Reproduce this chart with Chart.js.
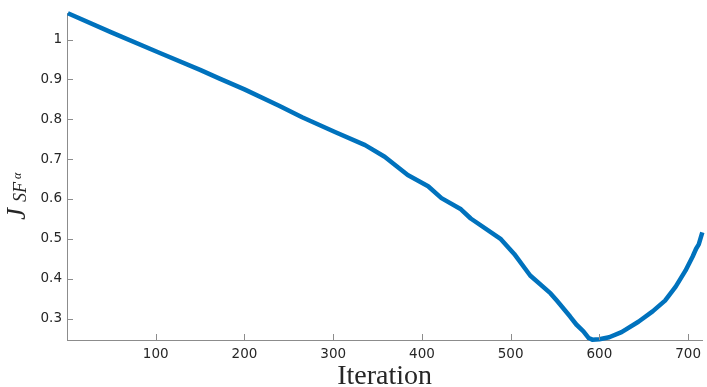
<!DOCTYPE html>
<html>
<head>
<meta charset="utf-8">
<script src="https://cdn.jsdelivr.net/npm/chart.js@4.4.1/dist/chart.umd.min.js"></script>
<style>
  html, body { margin: 0; padding: 0; background: #fff; }
  #wrap { width: 707px; height: 387px; }
</style>
</head>
<body>
<div id="wrap"><canvas id="costChart"></canvas></div>
<script>
// values
const iterations = [1, 50, 104, 150, 172, 200, 239, 265, 302, 336, 358, 384, 407, 422, 444, 455,
  489, 504, 522, 545, 552, 567, 574, 582, 588, 592, 600, 611, 625, 644, 660, 674, 686, 697, 705,
  709, 712, 716];
const costValues = [1.066, 1.018, 0.967, 0.924, 0.902, 0.875, 0.834, 0.805, 0.768, 0.735, 0.706, 0.660,
  0.632, 0.602, 0.574, 0.551, 0.499, 0.462, 0.408, 0.363, 0.345, 0.305, 0.285, 0.268, 0.251, 0.247,
  0.248, 0.253, 0.266, 0.292, 0.318, 0.345, 0.380, 0.420, 0.455, 0.475, 0.486, 0.516];
const xTicks = [100, 200, 300, 400, 500, 600, 700];
const yTicks = [0.3, 0.4, 0.5, 0.6, 0.7, 0.8, 0.9, 1];

const axisGray = '#8c8c8c';
const textGray = '#262626';
const tickFont = { family: 'DejaVu Sans', size: 13.5 };

// MATLAB style: tick marks point into the plot
const innerTicks = {
  id: 'innerTicks',
  afterDraw(chart) {
    const { ctx, chartArea, scales } = chart;
    ctx.save();
    ctx.strokeStyle = axisGray;
    ctx.lineWidth = 1;
    ctx.beginPath();
    scales.x.ticks.forEach(t => {
      const px = Math.round(scales.x.getPixelForValue(t.value)) + 0.5;
      ctx.moveTo(px, chartArea.bottom);
      ctx.lineTo(px, chartArea.bottom - 6);
    });
    scales.y.ticks.forEach(t => {
      const py = Math.round(scales.y.getPixelForValue(t.value)) + 0.5;
      ctx.moveTo(chartArea.left, py);
      ctx.lineTo(chartArea.left + 6, py);
    });
    ctx.stroke();
    ctx.restore();
  }
};

// axis titles in a LaTeX-like serif look
const axisTitles = {
  id: 'axisTitles',
  afterDraw(chart) {
    const { ctx, chartArea } = chart;
    ctx.save();
    ctx.fillStyle = textGray;
    ctx.textBaseline = 'alphabetic';

    ctx.font = '28px "Liberation Serif"';
    ctx.textAlign = 'center';
    ctx.fillText('Iteration', (chartArea.left + chartArea.right) / 2, chartArea.bottom + 44);

    ctx.translate(25, 222);
    ctx.rotate(-Math.PI / 2);
    ctx.textAlign = 'left';
    ctx.font = 'italic 27px "Liberation Serif"';
    ctx.fillText('J', 2, 0);
    ctx.font = 'italic 18px "Liberation Serif"';
    ctx.fillText('SF', 20, 1);
    ctx.font = 'italic 12px "Liberation Serif"';
    ctx.fillText('α', 43, -4);
    ctx.restore();
  }
};

new Chart(document.getElementById('costChart'), {
  type: 'line',
  data: {
    datasets: [{
      data: iterations.map((x, i) => ({ x, y: costValues[i] })),
      borderColor: '#0072BD',
      borderWidth: 4.5,
      borderJoinStyle: 'round',
      pointRadius: 0,
      tension: 0,
      fill: false,
      clip: 6
    }]
  },
  options: {
    responsive: true,
    maintainAspectRatio: false,
    animation: false,
    layout: { padding: { top: 10, right: 0, left: 0, bottom: 0 } },
    plugins: { legend: { display: false }, tooltip: { enabled: false } },
    scales: {
      x: {
        type: 'linear',
        min: 0,
        max: 716,
        afterBuildTicks: s => { s.ticks = xTicks.map(v => ({ value: v })); },
        afterFit: s => { s.height = 47; },
        grid: { display: false, drawTicks: false },
        border: { color: axisGray, width: 1 },
        ticks: { color: textGray, font: tickFont, padding: 6, maxRotation: 0 }
      },
      y: {
        type: 'linear',
        min: 0.2461,
        max: 1.0664,
        afterBuildTicks: s => { s.ticks = yTicks.map(v => ({ value: v })); },
        afterFit: s => { s.width = 67; },
        grid: { display: false, drawTicks: false },
        border: { color: axisGray, width: 1 },
        ticks: { color: textGray, font: tickFont, padding: 5, callback: v => String(v) }
      }
    }
  },
  plugins: [innerTicks, axisTitles]
});
</script>
</body>
</html>
